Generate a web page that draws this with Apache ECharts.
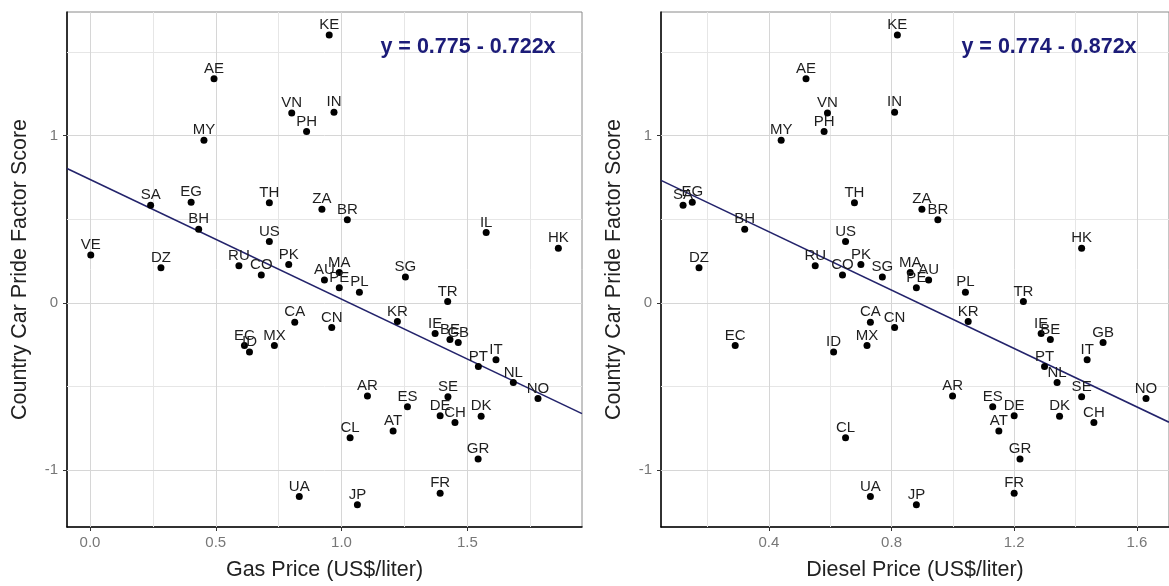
<!DOCTYPE html>
<html><head><meta charset="utf-8">
<script src="https://cdn.jsdelivr.net/npm/echarts@6/dist/echarts.min.js"></script>
<style>html,body{margin:0;padding:0;background:#fff;overflow:hidden}#c{width:1169px;height:586px}</style>
</head><body><div id="c"></div>
<script>
// ---------- data ----------
const countries = ['KE','AE','VN','IN','PH','MY','SA','EG','TH','ZA','BR','BH','US','VE','DZ','RU','CO','PK','AU','MA','PE','PL','SG','IL','HK','TR','KR','CN','CA','EC','ID','MX','IE','BE','GB','PT','IT','NL','NO','AR','ES','SE','DE','CH','DK','CL','AT','GR','FR','JP','UA'];
const prideScore = [1.601,1.339,1.135,1.139,1.024,0.972,0.583,0.601,0.599,0.560,0.496,0.440,0.367,0.286,0.210,0.222,0.167,0.230,0.137,0.182,0.091,0.064,0.155,0.421,0.326,0.008,-0.111,-0.147,-0.115,-0.254,-0.294,-0.254,-0.183,-0.218,-0.236,-0.380,-0.340,-0.476,-0.571,-0.556,-0.621,-0.561,-0.675,-0.714,-0.677,-0.806,-0.766,-0.933,-1.137,-1.206,-1.157];
const gasPrice = [0.951,0.493,0.802,0.970,0.861,0.453,0.241,0.402,0.713,0.922,1.023,0.432,0.713,0.003,0.282,0.592,0.681,0.790,0.932,0.991,0.991,1.071,1.254,1.575,1.862,1.422,1.222,0.961,0.814,0.614,0.634,0.733,1.372,1.431,1.464,1.544,1.614,1.683,1.781,1.103,1.262,1.423,1.392,1.451,1.555,1.034,1.205,1.543,1.392,1.063,0.832];
const dieselPrice = [0.819,0.521,0.591,0.810,0.580,0.440,0.120,0.150,0.679,0.899,0.951,0.321,0.650,null,0.172,0.551,0.640,0.700,0.921,0.861,0.881,1.041,0.770,null,1.420,1.230,1.050,0.810,0.731,0.290,0.611,0.720,1.288,1.318,1.490,1.299,1.438,1.340,1.630,0.999,1.130,1.420,1.200,1.460,1.348,0.650,1.150,1.219,1.200,0.881,0.731];
const gasTicks = [0, 0.5, 1.0, 1.5];
const gasMinorTicks = [0.25, 0.75, 1.25, 1.75];
const dieselTicks = [0.4, 0.8, 1.2, 1.6];
const dieselMinorTicks = [0.2, 0.6, 1.0, 1.4];
const scoreTicks = [-1, 0, 1];
const scoreMinorTicks = [-0.5, 0.5, 1.5];
const gasFit = [0.737, -0.715];      // drawn line: intercept, slope
const dieselFit = [0.774, -0.872];
const gasFitLabel = 'y = 0.775 - 0.722x';
const dieselFitLabel = 'y = 0.774 - 0.872x';
const xTitles = ['Gas Price (US$/liter)', 'Diesel Price (US$/liter)'];
const yTitle = 'Country Car Pride Factor Score';

// ---------- layout ----------
const gasRange = [-0.0915, 1.956];
const dieselRange = [0.048, 1.705];
const scoreRange = [-1.339, 1.738];
const FONT = 'Liberation Sans, Arial, sans-serif';

function pts(xs) {
  const out = [];
  countries.forEach((c, i) => { if (xs[i] !== null) out.push({ name: c, value: [xs[i], prideScore[i]] }); });
  return out;
}
function fitLine(fit, r) { return [[r[0], fit[0] + fit[1] * r[0]], [r[1], fit[0] + fit[1] * r[1]]]; }
function gridLines(major, minor, yMajor, yMinor) {
  const d = [];
  minor.forEach(v => d.push({ xAxis: v, lineStyle: { color: '#e6e6e6', width: 1 } }));
  yMinor.forEach(v => d.push({ yAxis: v, lineStyle: { color: '#e6e6e6', width: 1 } }));
  major.forEach(v => d.push({ xAxis: v, lineStyle: { color: '#d6d6d6', width: 1 } }));
  yMajor.forEach(v => d.push({ yAxis: v, lineStyle: { color: '#d6d6d6', width: 1 } }));
  return { silent: true, symbol: 'none', z: 1, animation: false, label: { show: false },
           lineStyle: { type: 'solid' }, data: d };
}
function xAxis(idx, r, ticks, name) {
  return {
    gridIndex: idx, type: 'value', min: r[0], max: r[1],
    axisLine: { show: true, onZero: false, lineStyle: { color: '#000', width: 1.5 } },
    axisTick: { show: true, length: 4, customValues: ticks, lineStyle: { color: '#333' } },
    axisLabel: { customValues: ticks, formatter: v => v.toFixed(1), color: '#777', fontSize: 15, margin: 8, fontFamily: FONT },
    splitLine: { show: false },
    name: name, nameLocation: 'middle', nameGap: 32,
    nameTextStyle: { fontSize: 21.5, color: '#222', fontFamily: FONT }
  };
}
function yAxis(idx) {
  return {
    gridIndex: idx, type: 'value', min: scoreRange[0], max: scoreRange[1],
    axisLine: { show: true, onZero: false, lineStyle: { color: '#000', width: 1.5 } },
    axisTick: { show: true, length: 4, customValues: scoreTicks, lineStyle: { color: '#333' } },
    axisLabel: { customValues: scoreTicks, formatter: v => String(v), color: '#777', fontSize: 15, margin: 9, fontFamily: FONT },
    splitLine: { show: false },
    name: yTitle, nameLocation: 'middle', nameGap: 36,
    nameTextStyle: { fontSize: 21.5, color: '#222', fontFamily: FONT }
  };
}
function scatter(idx, xs) {
  return {
    type: 'scatter', xAxisIndex: idx, yAxisIndex: idx, z: 4,
    symbol: 'circle', symbolSize: 7, itemStyle: { color: '#000', opacity: 1 },
    label: { show: true, position: 'top', distance: -1, formatter: '{b}', color: '#1e1e1e', fontSize: 15, fontFamily: FONT },
    data: pts(xs), animation: false
  };
}
function fitSeries(idx, fit, r, gl) {
  return {
    type: 'line', xAxisIndex: idx, yAxisIndex: idx, z: 3, symbol: 'none',
    lineStyle: { color: '#23236b', width: 1.6 }, data: fitLine(fit, r),
    markLine: gl, animation: false, silent: true
  };
}

const chart = echarts.init(document.getElementById('c'), null, { renderer: 'canvas' });
chart.setOption({
  backgroundColor: '#fff',
  animation: false,
  textStyle: { fontFamily: FONT },
  grid: [
    { left: 67, top: 12, width: 515, height: 517, show: true, borderColor: '#8a8a8a', borderWidth: 1, backgroundColor: 'transparent' },
    { left: 661, top: 12, width: 514, height: 517, show: true, borderColor: '#8a8a8a', borderWidth: 1, backgroundColor: 'transparent' }
  ],
  xAxis: [xAxis(0, gasRange, gasTicks, xTitles[0]), xAxis(1, dieselRange, dieselTicks, xTitles[1])],
  yAxis: [yAxis(0), yAxis(1)],
  series: [
    fitSeries(0, gasFit, gasRange, gridLines(gasTicks, gasMinorTicks, scoreTicks, scoreMinorTicks)),
    fitSeries(1, dieselFit, dieselRange, gridLines(dieselTicks, dieselMinorTicks, scoreTicks, scoreMinorTicks)),
    scatter(0, gasPrice),
    scatter(1, dieselPrice)
  ],
  graphic: [
    { type: 'text', x: 468, y: 47, z: 10, style: { text: gasFitLabel, fontSize: 21.5, fontWeight: 'bold', fill: '#1c1c78', align: 'center', verticalAlign: 'middle', fontFamily: FONT } },
    { type: 'text', x: 1049, y: 47, z: 10, style: { text: dieselFitLabel, fontSize: 21.5, fontWeight: 'bold', fill: '#1c1c78', align: 'center', verticalAlign: 'middle', fontFamily: FONT } }
  ]
});
</script></body></html>
